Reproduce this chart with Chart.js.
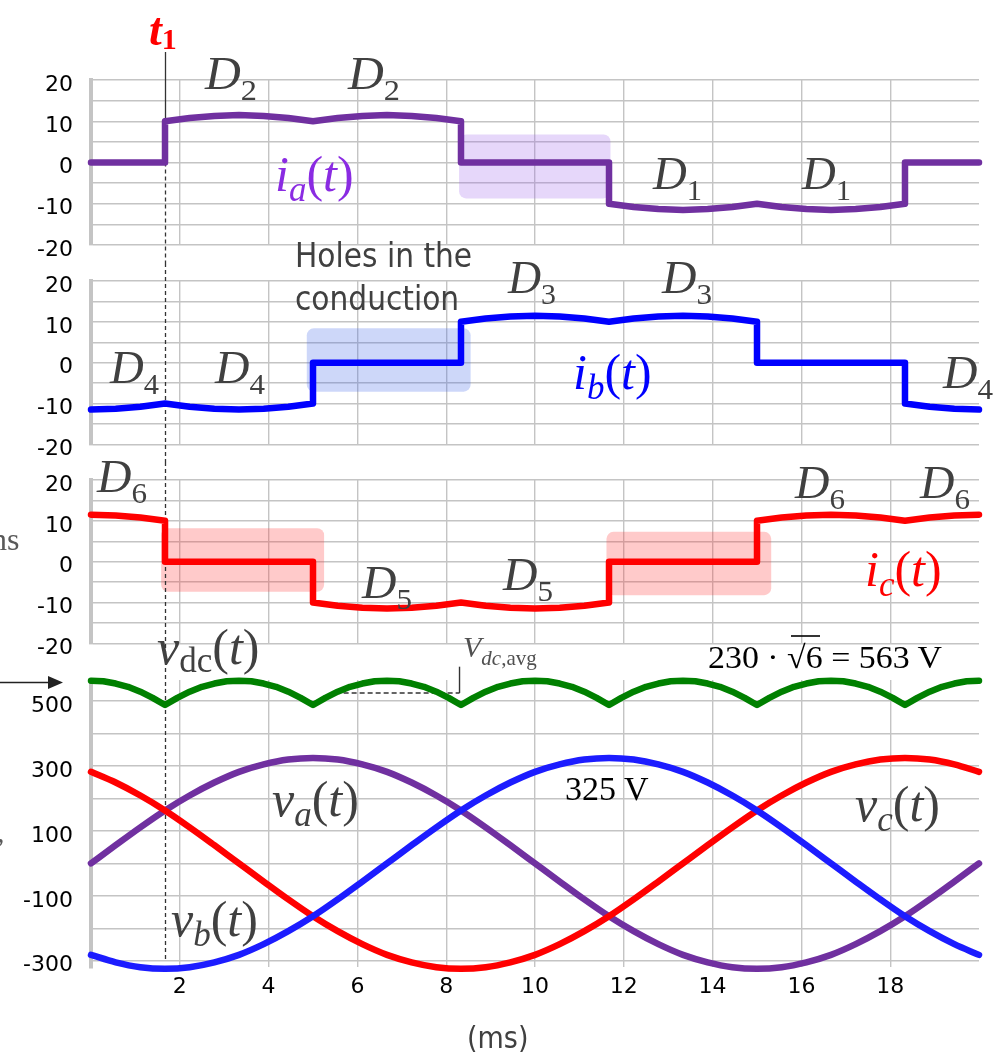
<!DOCTYPE html>
<html>
<head>
<meta charset="utf-8">
<script src="https://cdn.jsdelivr.net/npm/chart.js@4.4.1/dist/chart.umd.min.js"></script>
<style>
  html, body { margin: 0; padding: 0; background: #fff; }
  #wrap { position: relative; width: 994px; height: 1053px; overflow: hidden; background: #fff; }
  #wrap canvas { position: absolute; left: 0; }
  #notes { position: absolute; left: 0; top: 0; pointer-events: none; }
</style>
</head>
<body>
<div id="wrap">
  <canvas id="pA" width="994" height="263" style="top:0px"></canvas>
  <canvas id="pB" width="994" height="199" style="top:263px"></canvas>
  <canvas id="pC" width="994" height="199" style="top:462px"></canvas>
  <canvas id="pD" width="994" height="392" style="top:661px"></canvas>

  <svg id="notes" width="994" height="1053" viewBox="0 0 994 1053">
    <g font-family="'Liberation Serif','Times New Roman',serif">
      <!-- commutation instant -->
      <text x="149" y="45" fill="#ff0000" font-weight="bold"><tspan font-style="italic" font-size="46">t</tspan><tspan font-size="30" dy="4">1</tspan></text>

      <!-- conducting diodes -->
      <g fill="#404040" font-size="46">
        <text x="205" y="89" textLength="52" lengthAdjust="spacingAndGlyphs"><tspan font-style="italic">D</tspan><tspan font-size="30" dy="11">2</tspan></text>
        <text x="348" y="89" textLength="52" lengthAdjust="spacingAndGlyphs"><tspan font-style="italic">D</tspan><tspan font-size="30" dy="11">2</tspan></text>
        <text x="653" y="189" textLength="49" lengthAdjust="spacingAndGlyphs"><tspan font-style="italic">D</tspan><tspan font-size="30" dy="11">1</tspan></text>
        <text x="802" y="189" textLength="49" lengthAdjust="spacingAndGlyphs"><tspan font-style="italic">D</tspan><tspan font-size="30" dy="11">1</tspan></text>

        <text x="110" y="383" textLength="49" lengthAdjust="spacingAndGlyphs"><tspan font-style="italic">D</tspan><tspan font-size="30" dy="11">4</tspan></text>
        <text x="215" y="383" textLength="50" lengthAdjust="spacingAndGlyphs"><tspan font-style="italic">D</tspan><tspan font-size="30" dy="11">4</tspan></text>
        <text x="508" y="293" textLength="48" lengthAdjust="spacingAndGlyphs"><tspan font-style="italic">D</tspan><tspan font-size="30" dy="11">3</tspan></text>
        <text x="662" y="293" textLength="50" lengthAdjust="spacingAndGlyphs"><tspan font-style="italic">D</tspan><tspan font-size="30" dy="11">3</tspan></text>
        <text x="943" y="388" textLength="50" lengthAdjust="spacingAndGlyphs"><tspan font-style="italic">D</tspan><tspan font-size="30" dy="11">4</tspan></text>

        <text x="97" y="492" textLength="50" lengthAdjust="spacingAndGlyphs"><tspan font-style="italic">D</tspan><tspan font-size="30" dy="11">6</tspan></text>
        <text x="362" y="598" textLength="50" lengthAdjust="spacingAndGlyphs"><tspan font-style="italic">D</tspan><tspan font-size="30" dy="11">5</tspan></text>
        <text x="503" y="590" textLength="50" lengthAdjust="spacingAndGlyphs"><tspan font-style="italic">D</tspan><tspan font-size="30" dy="11">5</tspan></text>
        <text x="795" y="498" textLength="50" lengthAdjust="spacingAndGlyphs"><tspan font-style="italic">D</tspan><tspan font-size="30" dy="11">6</tspan></text>
        <text x="920" y="498" textLength="50" lengthAdjust="spacingAndGlyphs"><tspan font-style="italic">D</tspan><tspan font-size="30" dy="11">6</tspan></text>
      </g>

      <!-- phase currents -->
      <g font-size="50">
        <text x="275" y="191" fill="#8a2be2"><tspan font-style="italic">i</tspan><tspan font-style="italic" font-size="35" dy="10">a</tspan><tspan dy="-10">(</tspan><tspan font-style="italic">t</tspan>)</text>
        <text x="573" y="389" fill="#0000ff"><tspan font-style="italic">i</tspan><tspan font-style="italic" font-size="35" dy="10">b</tspan><tspan dy="-10">(</tspan><tspan font-style="italic">t</tspan>)</text>
        <text x="865" y="586" fill="#ff0000"><tspan font-style="italic">i</tspan><tspan font-style="italic" font-size="35" dy="10">c</tspan><tspan dy="-10">(</tspan><tspan font-style="italic">t</tspan>)</text>
      </g>

      <!-- voltages -->
      <g font-size="50" fill="#404040">
        <text x="157" y="664"><tspan font-style="italic">v</tspan><tspan font-size="35" dy="8">dc</tspan><tspan dy="-8">(</tspan><tspan font-style="italic">t</tspan>)</text>
        <text x="272" y="816"><tspan font-style="italic">v</tspan><tspan font-style="italic" font-size="35" dy="10">a</tspan><tspan dy="-10">(</tspan><tspan font-style="italic">t</tspan>)</text>
        <text x="171" y="936"><tspan font-style="italic">v</tspan><tspan font-style="italic" font-size="35" dy="10">b</tspan><tspan dy="-10">(</tspan><tspan font-style="italic">t</tspan>)</text>
        <text x="855" y="821"><tspan font-style="italic">v</tspan><tspan font-style="italic" font-size="35" dy="10">c</tspan><tspan dy="-10">(</tspan><tspan font-style="italic">t</tspan>)</text>
      </g>

      <text x="565" y="800" font-size="34" fill="#000">325 V</text>
      <text x="708" y="668" font-size="32" fill="#000" textLength="234" lengthAdjust="spacingAndGlyphs">230 · √6 = 563 V</text>
      <line x1="791" y1="636" x2="820" y2="636" stroke="#000" stroke-width="1.6"></line>

      <text x="463" y="657" fill="#505050"><tspan font-style="italic" font-size="30">V</tspan><tspan font-style="italic" font-size="21" dy="8">dc</tspan><tspan font-size="21">,avg</tspan></text>

      <!-- cut-off notes at the left margin -->
      <text x="-9" y="550" font-size="32" fill="#595959">ns</text>
      <text x="-3" y="842" font-size="30" fill="#595959">,</text>
    </g>

    <line x1="0" y1="682.5" x2="50" y2="682.5" stroke="#222" stroke-width="1.6"></line>
    <polygon points="48,676 63,682.5 48,689" fill="#222"></polygon>

    <g font-family="'DejaVu Sans Condensed','Open Sans',sans-serif" fill="#404040">
      <text x="295" y="267" font-size="33">Holes in the</text>
      <text x="295" y="310" font-size="33">conduction</text>
      <text x="467" y="1048" font-size="30">(ms)</text>
    </g>
  </svg>
</div>

<script>
// ---- time axis (ms) and tick values ----
const xTickVals = [2, 4, 6, 8, 10, 12, 14, 16, 18];
const iTickVals = [-20, -15, -10, -5, 0, 5, 10, 15, 20];
const iTickLabels = [-20, -10, 0, 10, 20];
const vTickVals = [-300, -200, -100, 0, 100, 200, 300, 400, 500];
const vTickLabels = [-300, -100, 100, 300, 500];

const T1 = 1.667;   // commutation instant t1 (ms)

// ---- supply voltages (V), one period ----
const tms = [0, 0.556, 1.111, 1.667, 2.222, 2.778, 3.333, 3.889, 4.444, 5, 5.556, 6.111, 6.667,
             7.222, 7.778, 8.333, 8.889, 9.444, 10, 10.556, 11.111, 11.667, 12.222, 12.778, 13.333,
             13.889, 14.444, 15, 15.556, 16.111, 16.667, 17.222, 17.778, 18.333, 18.889, 19.444, 20];
const va = [0, 56, 111, 163, 209, 249, 282, 305, 320, 325, 320, 305, 282, 249, 209, 163, 111, 56, 0,
            -56, -111, -163, -209, -249, -282, -305, -320, -325, -320, -305, -282, -249, -209, -163, -111, -56, 0];
const vb = [-282, -305, -320, -325, -320, -305, -282, -249, -209, -163, -111, -56, 0, 56, 111, 163, 209,
            249, 282, 305, 320, 325, 320, 305, 282, 249, 209, 163, 111, 56, 0, -56, -111, -163, -209, -249, -282];
const vc = [282, 249, 209, 163, 111, 56, 0, -56, -111, -163, -209, -249, -282, -305, -320, -325, -320,
            -305, -282, -249, -209, -163, -111, -56, 0, 56, 111, 163, 209, 249, 282, 305, 320, 325, 320, 305, 282];

// ---- rectified dc voltage (V) ----
const vdcT = [0, 0.278, 0.556, 0.833, 1.111, 1.389, 1.667, 1.944, 2.222, 2.5, 2.778, 3.056,
              3.333, 3.611, 3.889, 4.167, 4.444, 4.722, 5, 5.278, 5.556, 5.833, 6.111, 6.389,
              6.667, 6.944, 7.222, 7.5, 7.778, 8.056, 8.333, 8.611, 8.889, 9.167, 9.444, 9.722,
              10, 10.278, 10.556, 10.833, 11.111, 11.389, 11.667, 11.944, 12.222, 12.5, 12.778, 13.056,
              13.333, 13.611, 13.889, 14.167, 14.444, 14.722, 15, 15.278, 15.556, 15.833, 16.111, 16.389,
              16.667, 16.944, 17.222, 17.5, 17.778, 18.056, 18.333, 18.611, 18.889, 19.167, 19.444, 19.722, 20];
const vdc = [563, 561, 554, 544, 529, 510, 488, 510, 529, 544, 554, 561,
             563, 561, 554, 544, 529, 510, 488, 510, 529, 544, 554, 561,
             563, 561, 554, 544, 529, 510, 488, 510, 529, 544, 554, 561,
             563, 561, 554, 544, 529, 510, 488, 510, 529, 544, 554, 561,
             563, 561, 554, 544, 529, 510, 488, 510, 529, 544, 554, 561,
             563, 561, 554, 544, 529, 510, 488, 510, 529, 544, 554, 561, 563];
const vdcAvg = 525;

// ---- phase currents (A) ----
const iaT = [0, 1.667, 1.667, 2.222, 2.778, 3.333, 3.889, 4.444, 5, 5.556, 6.111, 6.667, 7.222, 7.778, 8.333, 8.333,
             11.667, 11.667, 12.222, 12.778, 13.333, 13.889, 14.444, 15, 15.556, 16.111, 16.667, 17.222, 17.778, 18.333, 18.333, 20];
const iaV = [0, 0, 10, 10.8, 11.3, 11.5, 11.3, 10.8, 10, 10.8, 11.3, 11.5, 11.3, 10.8, 10, 0,
             0, -10, -10.8, -11.3, -11.5, -11.3, -10.8, -10, -10.8, -11.3, -11.5, -11.3, -10.8, -10, 0, 0];
const ibT = [0, 0.556, 1.111, 1.667, 2.222, 2.778, 3.333, 3.889, 4.444, 5, 5, 8.333, 8.333, 8.889, 9.444, 10,
             10.556, 11.111, 11.667, 12.222, 12.778, 13.333, 13.889, 14.444, 15, 15, 18.333, 18.333, 18.889, 19.444, 20];
const ibV = [-11.5, -11.3, -10.8, -10, -10.8, -11.3, -11.5, -11.3, -10.8, -10, 0, 0, 10, 10.8, 11.3, 11.5,
             11.3, 10.8, 10, 10.8, 11.3, 11.5, 11.3, 10.8, 10, 0, 0, -10, -10.8, -11.3, -11.5];
const icT = [0, 0.556, 1.111, 1.667, 1.667, 5, 5, 5.556, 6.111, 6.667, 7.222, 7.778, 8.333, 8.889, 9.444, 10,
             10.556, 11.111, 11.667, 11.667, 15, 15, 15.556, 16.111, 16.667, 17.222, 17.778, 18.333, 18.889, 19.444, 20];
const icV = [11.5, 11.3, 10.8, 10, 0, 0, -10, -10.8, -11.3, -11.5, -11.3, -10.8, -10, -10.8, -11.3, -11.5,
             -11.3, -10.8, -10, 0, 0, 10, 10.8, 11.3, 11.5, 11.3, 10.8, 10, 10.8, 11.3, 11.5];

// ---- shaded "holes in the conduction" (ms, A) ----
const holesA = [{ x0: 8.29, x1: 11.70, y0: -8.7, y1: 6.8, color: 'rgba(155,95,235,0.25)' }];
const holesB = [{ x0: 4.86, x1: 8.55, y0: -7.1, y1: 8.4, color: 'rgba(60,100,230,0.26)' }];
const holesC = [{ x0: 1.58, x1: 5.25, y0: -7.4, y1: 8.2, color: 'rgba(255,50,50,0.26)' },
                { x0: 11.61, x1: 15.32, y0: -8.2, y1: 7.3, color: 'rgba(255,50,50,0.26)' }];

// ---- layout ----
const AREA_LEFT = 91, AREA_RIGHT = 979, CANVAS_W = 994;
const GRID = '#c4c4c4';
const TICK_FONT = { family: "'DejaVu Sans', sans-serif", size: 22 };

function xy(ts, vs) { return ts.map((t, i) => ({ x: t, y: vs[i] })); }

function xScale(withLabels) {
  return {
    type: 'linear', min: 0, max: 20,
    afterBuildTicks: s => { s.ticks = xTickVals.map(v => ({ value: v })); },
    afterFit: s => { s.height = withLabels ? 40 : 0; s.paddingLeft = 0; s.paddingRight = 0; },
    grid: { color: GRID, lineWidth: 1.4, drawTicks: false },
    border: { display: false },
    ticks: { display: withLabels, color: '#000', font: TICK_FONT,
             padding: 7, maxRotation: 0, autoSkip: false }
  };
}

function yScale(min, max, tickVals, labelVals) {
  return {
    type: 'linear', min, max,
    afterBuildTicks: s => { s.ticks = tickVals.map(v => ({ value: v })); },
    afterFit: s => { s.width = AREA_LEFT; s.paddingTop = 0; s.paddingBottom = 0; },
    grid: { color: GRID, lineWidth: 1.4, drawTicks: false },
    border: { display: true, color: '#c4c4c4', width: 4 },
    ticks: { color: '#000', font: TICK_FONT,
             padding: 18, labelOffset: 5, autoSkip: false,
             callback: v => labelVals.includes(v) ? String(v) : '' }
  };
}

// translucent rounded boxes behind the traces
const shadeBoxes = {
  id: 'shadeBoxes',
  beforeDatasetsDraw(chart, args, opts) {
    const { ctx } = chart;
    const x = chart.scales.x, y = chart.scales.y;
    (opts.boxes || []).forEach(b => {
      const px0 = x.getPixelForValue(b.x0), px1 = x.getPixelForValue(b.x1);
      const py0 = y.getPixelForValue(b.y1), py1 = y.getPixelForValue(b.y0);
      ctx.save();
      ctx.fillStyle = b.color;
      ctx.beginPath();
      ctx.roundRect(px0, py0, px1 - px0, py1 - py0, 7);
      ctx.fill();
      ctx.restore();
    });
  }
};

// vertical marker at t1 running through all panels
const t1Marker = {
  id: 't1Marker',
  beforeDatasetsDraw(chart, args, opts) {
    const { ctx } = chart;
    const x = chart.scales.x, y = chart.scales.y;
    const px = Math.round(x.getPixelForValue(T1)) + 0.5;
    ctx.save();
    ctx.lineWidth = 1.3;
    ctx.strokeStyle = '#333';
    if (opts.solidTopPx != null) {
      ctx.beginPath();
      ctx.moveTo(px, opts.solidTopPx);
      ctx.lineTo(px, y.getPixelForValue(opts.solidToValue));
      ctx.stroke();
    }
    const y0 = opts.dashFromValue != null ? y.getPixelForValue(opts.dashFromValue) : 0;
    const y1 = opts.dashToValue != null ? y.getPixelForValue(opts.dashToValue) : chart.height;
    ctx.setLineDash([4, 3]);
    ctx.beginPath();
    ctx.moveTo(px, y0);
    ctx.lineTo(px, y1);
    ctx.stroke();
    ctx.restore();
  }
};

function trace(data, color, smooth) {
  const ds = { data, borderColor: color, borderWidth: 6.5, pointRadius: 0, tension: 0, fill: false,
               clip: false, borderJoinStyle: 'round', borderCapStyle: 'round' };
  if (smooth) ds.cubicInterpolationMode = 'monotone';
  return ds;
}

function makePanel(id, datasets, yOpts, pad, withLabels, boxes, marker) {
  return new Chart(document.getElementById(id), {
    type: 'line',
    data: { datasets },
    options: {
      responsive: false, animation: false, events: [],
      layout: { autoPadding: false, padding: { left: 0, right: CANVAS_W - AREA_RIGHT, top: pad.top, bottom: pad.bottom } },
      scales: { x: xScale(withLabels), y: yOpts },
      plugins: { legend: { display: false }, tooltip: { enabled: false },
                 shadeBoxes: { boxes }, t1Marker: marker }
    },
    plugins: [shadeBoxes, t1Marker]
  });
}

// panel A: i_a, chart area 80..245
makePanel('pA', [trace(xy(iaT, iaV), '#7030a0')], yScale(-20, 20, iTickVals, iTickLabels),
  { top: 80, bottom: 18 }, false, holesA,
  { solidTopPx: 52, solidToValue: 0, dashFromValue: 0, dashToValue: null });

// panel B: i_b, chart area 281..444.3
makePanel('pB', [trace(xy(ibT, ibV), '#0000ff')], yScale(-20, 20, iTickVals, iTickLabels),
  { top: 18, bottom: 17.7 }, false, holesB, { dashFromValue: null, dashToValue: null });

// panel C: i_c, chart area 480..643.3
makePanel('pC', [trace(xy(icT, icV), '#ff0000')], yScale(-20, 20, iTickVals, iTickLabels),
  { top: 18, bottom: 17.7 }, false, holesC, { dashFromValue: null, dashToValue: null });

// panel D: voltages, chart area 680..967.2
const avgLine = { data: [{ x: 5.69, y: vdcAvg }, { x: 8.3, y: vdcAvg }], borderColor: '#333', borderWidth: 1.4,
                  borderDash: [5, 3], pointRadius: 0, clip: false, fill: false };
const avgTick = { data: [{ x: 8.3, y: vdcAvg }, { x: 8.3, y: 606 }], borderColor: '#333', borderWidth: 1.4,
                  pointRadius: 0, clip: false, fill: false };
makePanel('pD', [
    trace(xy(vdcT, vdc), '#008000'),
    trace(xy(tms, vb), '#1c1cff', true),
    trace(xy(tms, vc), '#ff0000', true),
    trace(xy(tms, va), '#7030a0', true),
    avgLine, avgTick
  ], yScale(-320, 565, vTickVals, vTickLabels),
  { top: 19, bottom: 45.8 }, true, [], { dashFromValue: null, dashToValue: -300 });
</script>
</body>
</html>
